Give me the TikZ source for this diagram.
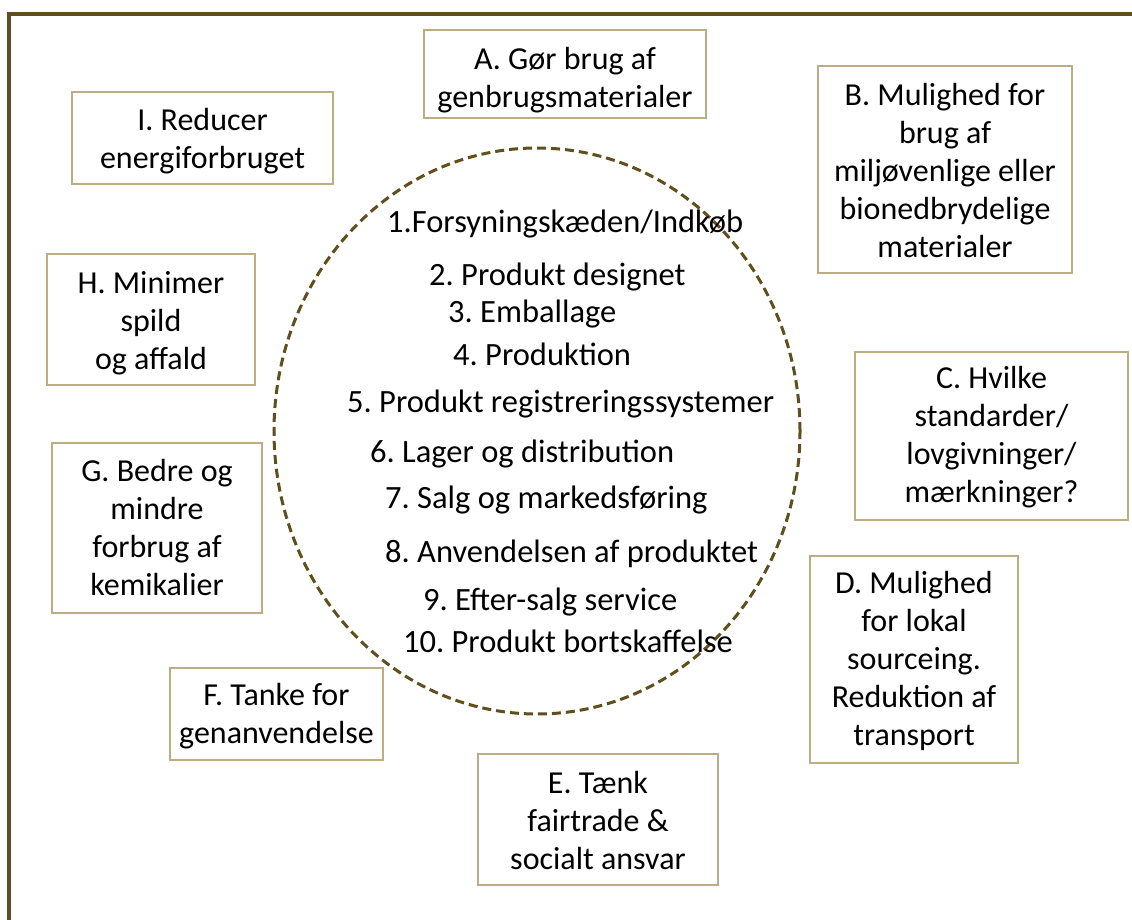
\documentclass[tikz,border=0pt]{standalone}
\usepackage{fontspec}
\usetikzlibrary{shapes.geometric}
\setmainfont{Carlito}
\frenchspacing
\definecolor{frameline}{HTML}{5E4E22}
\definecolor{boxline}{HTML}{BCAD84}
\definecolor{ringline}{HTML}{5F4F1C}
\begin{document}
\begin{tikzpicture}[x=1pt,y=-1pt,
  topic/.style={draw=boxline, line width=1.6pt, fill=white, inner sep=0pt},
  topictext/.style={align=center, inner sep=0pt, font=\fontsize{32}{38}\selectfont},
  stage/.style={anchor=base west, inner sep=0pt, font=\fontsize{32.5}{38}\selectfont}]
\useasboundingbox (0,0) rectangle (1132,920);
\fill[white] (0,0) rectangle (1132,920);
% outer frame
\draw[frameline, line width=3.5pt] (9,920) -- (9,14) -- (1132,14);
% central ring of life-cycle stages
\node[draw=ringline, dash pattern=on 9pt off 5pt, line width=3pt, ellipse,
  minimum width=526pt, minimum height=566pt, inner sep=0pt] (ring) at (537,431) {};
\node[stage] (s1) at (387,233) {1.Forsyningskæden/Indkøb};
\node[stage] (s2) at (429,285) {2. Produkt designet};
\node[stage] (s3) at (448,322) {3. Emballage};
\node[stage] (s4) at (453,365) {4. Produktion};
\node[stage] (s5) at (347,412) {5. Produkt registreringssystemer};
\node[stage] (s6) at (370,462) {6. Lager og distribution};
\node[stage] (s7) at (385,508) {7. Salg og markedsføring};
\node[stage] (s8) at (385,562) {8. Anvendelsen af produktet};
\node[stage] (s9) at (423,610) {9. Efter-salg service};
\node[stage] (s10) at (403,652) {10. Produkt bortskaffelse};
% surrounding topic boxes (frame, then its text)
\node[topic, minimum width=282pt, minimum height=88pt] (a) at (565,74) {};
\node[topictext] (a-t) at ([yshift=-6pt]a.center) {A. Gør brug af\\genbrugsmaterialer};
\node[topic, minimum width=254pt, minimum height=207pt] (b) at (945,169.5) {};
\node[topictext] (b-t) at ([yshift=-1pt]b.center)
  {B. Mulighed for\\brug af\\miljøvenlige eller\\bionedbrydelige\\materialer};
\node[topic, minimum width=273pt, minimum height=168pt] (c) at (991.5,436) {};
\node[topictext] (c-t) at ([yshift=-1pt]c.center)
  {C. Hvilke\\standarder/\\lovgivninger/\\mærkninger?};
\node[topic, minimum width=208pt, minimum height=207pt] (d) at (914,659.5) {};
\node[topictext] (d-t) at ([yshift=-1pt]d.center)
  {D. Mulighed\\for lokal\\sourceing.\\Reduktion af\\transport};
\node[topic, minimum width=240pt, minimum height=131pt] (e) at (598,819.5) {};
\node[topictext] (e-t) at ([yshift=-1pt]e.center)
  {E. Tænk\\fairtrade \&\\socialt ansvar};
\node[topic, minimum width=213pt, minimum height=92pt] (f) at (276.5,714) {};
\node[topictext] (f-t) at ([yshift=-2pt]f.center) {F. Tanke for\\genanvendelse};
\node[topic, minimum width=210pt, minimum height=170pt] (g) at (157,528) {};
\node[topictext] (g-t) at (g.center) {G. Bedre og\\mindre\\forbrug af\\kemikalier};
\node[topic, minimum width=208pt, minimum height=131pt] (h) at (151,319.5) {};
\node[topictext] (h-t) at ([yshift=-4pt]h.center) {H. Minimer\\spild\\og affald};
\node[topic, minimum width=261pt, minimum height=92pt] (i) at (202.5,138) {};
\node[topictext] (i-t) at ([yshift=-3pt]i.center) {I. Reducer\\energiforbruget};
\end{tikzpicture}
\end{document}
